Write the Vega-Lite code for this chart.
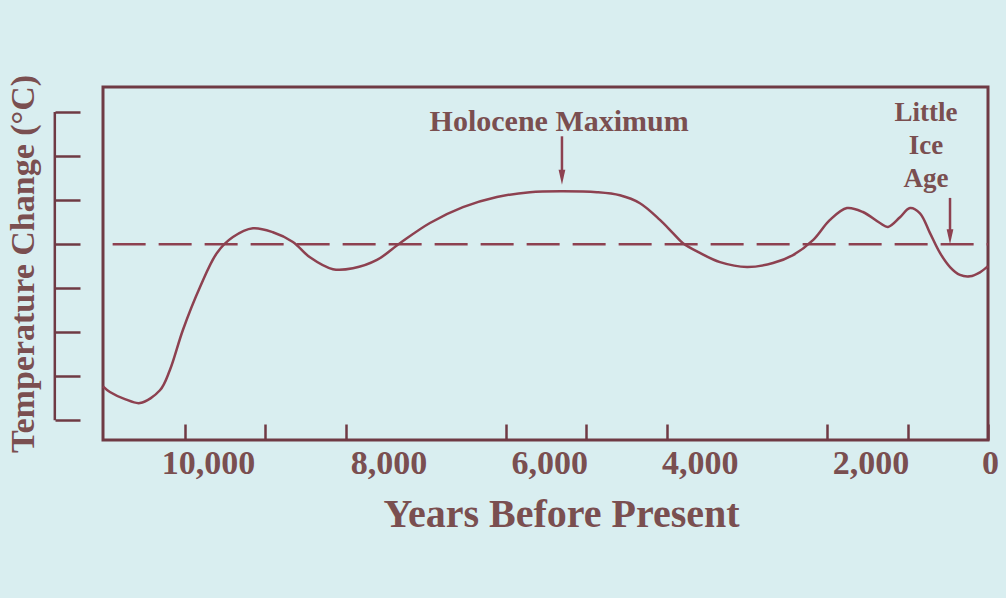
{
  "$schema": "https://vega.github.io/schema/vega-lite/v6.json",
  "width": 885,
  "height": 353,
  "autosize": {"type": "none"},
  "padding": {"left": 103, "top": 87, "right": 18, "bottom": 158},
  "background": "#d9eef0",
  "config": {
    "font": "Liberation Serif",
    "view": {"stroke": "#6f3a44", "strokeWidth": 3},
    "axis": {"grid": false}
  },
  "datasets": {
    "curve": [
      {"year": 11020, "temp": -3.23},
      {"year": 10934, "temp": -3.36},
      {"year": 10747, "temp": -3.52},
      {"year": 10560, "temp": -3.61},
      {"year": 10311, "temp": -3.32},
      {"year": 10187, "temp": -2.86},
      {"year": 10025, "temp": -1.95},
      {"year": 9813, "temp": -0.98},
      {"year": 9601, "temp": -0.2},
      {"year": 9402, "temp": 0.16},
      {"year": 9153, "temp": 0.36},
      {"year": 8904, "temp": 0.27},
      {"year": 8655, "temp": 0.05},
      {"year": 8443, "temp": -0.3},
      {"year": 8157, "temp": -0.57},
      {"year": 7908, "temp": -0.55},
      {"year": 7609, "temp": -0.36},
      {"year": 7323, "temp": 0.02},
      {"year": 6949, "temp": 0.48},
      {"year": 6538, "temp": 0.84},
      {"year": 6115, "temp": 1.07},
      {"year": 5704, "temp": 1.18},
      {"year": 5293, "temp": 1.2},
      {"year": 4869, "temp": 1.18},
      {"year": 4583, "temp": 1.11},
      {"year": 4334, "temp": 0.93},
      {"year": 4085, "temp": 0.55},
      {"year": 3923, "temp": 0.25},
      {"year": 3798, "temp": 0.02},
      {"year": 3587, "temp": -0.2},
      {"year": 3337, "temp": -0.41},
      {"year": 3001, "temp": -0.52},
      {"year": 2677, "temp": -0.43},
      {"year": 2428, "temp": -0.25},
      {"year": 2179, "temp": 0.09},
      {"year": 1968, "temp": 0.55},
      {"year": 1756, "temp": 0.82},
      {"year": 1557, "temp": 0.73},
      {"year": 1345, "temp": 0.48},
      {"year": 1245, "temp": 0.39},
      {"year": 1096, "temp": 0.61},
      {"year": 971, "temp": 0.82},
      {"year": 847, "temp": 0.7},
      {"year": 722, "temp": 0.25},
      {"year": 598, "temp": -0.2},
      {"year": 473, "temp": -0.52},
      {"year": 349, "temp": -0.7},
      {"year": 224, "temp": -0.73},
      {"year": 100, "temp": -0.64},
      {"year": 0, "temp": -0.5}
    ],
    "baseline": [{"year": 10900, "temp": 0}, {"year": 0, "temp": 0}],
    "bigLabel": [{"year": 5340, "temp": 2.77, "text": "Holocene Maximum"}],
    "smallLabel": [
      {"year": 772, "temp": 2.98, "text": "Little"},
      {"year": 772, "temp": 2.23, "text": "Ice"},
      {"year": 772, "temp": 1.48, "text": "Age"}
    ],
    "arrowShaft": [
      {"year": 5305, "temp": 2.45, "temp2": 1.6},
      {"year": 473, "temp": 1.05, "temp2": 0.3}
    ],
    "arrowHead": [
      {"year": 5305, "temp": 1.52},
      {"year": 473, "temp": 0.17}
    ],
    "bracket": [{"year": 11620, "temp": -4, "temp2": 3}]
  },
  "encoding": {
    "x": {
      "field": "year",
      "type": "quantitative",
      "scale": {"domain": [0, 11020], "reverse": true, "nice": false, "zero": false},
      "axis": {
        "orient": "bottom",
        "domain": false,
        "values": [10000, 9000, 8000, 6000, 5000, 4000, 2000, 1000, 0],
        "tickSize": -16,
        "tickWidth": 2.5,
        "tickColor": "#6f3a44",
        "labelExpr": "indexof([10000, 8000, 6000, 4000, 2000, 0], datum.value) >= 0 ? format(datum.value, ',') : ''",
        "labelFontSize": 34,
        "labelFontWeight": "bold",
        "labelColor": "#7a4f50",
        "labelPadding": 22,
        "labelFlush": false,
        "labelOverlap": false,
        "labelOffset": {
          "condition": [
            {"test": "datum.value == 10000", "value": 23},
            {"test": "datum.value == 4000", "value": 33},
            {"test": "datum.value == 0", "value": 2}
          ],
          "value": 43
        },
        "title": "Years Before Present",
        "titleFontSize": 40,
        "titleFontWeight": "bold",
        "titleColor": "#7a4f50",
        "titlePadding": 14,
        "titleX": 458
      }
    },
    "y": {
      "field": "temp",
      "type": "quantitative",
      "scale": {"domain": [-4.45, 3.57], "nice": false, "zero": false},
      "axis": {
        "orient": "left",
        "offset": 48,
        "domain": false,
        "labels": false,
        "values": [-4, -3, -2, -1, 0, 1, 2, 3],
        "tickSize": -25,
        "tickWidth": 2.5,
        "tickColor": "#6f3a44",
        "title": "Temperature Change (°C)",
        "titleFontSize": 34,
        "titleFontWeight": "bold",
        "titleColor": "#7a4f50",
        "titlePadding": 13
      }
    }
  },
  "layer": [
    {
      "data": {"name": "curve"},
      "mark": {"type": "line", "interpolate": "catmull-rom", "stroke": "#8d4150", "strokeWidth": 2.5}
    },
    {
      "data": {"name": "baseline"},
      "mark": {"type": "line", "stroke": "#8d4150", "strokeWidth": 2.5, "strokeDash": [33, 13]}
    },
    {
      "data": {"name": "bracket"},
      "mark": {"type": "rule", "stroke": "#6f3a44", "strokeWidth": 2.5},
      "encoding": {"y2": {"field": "temp2"}}
    },
    {
      "data": {"name": "arrowShaft"},
      "mark": {"type": "rule", "stroke": "#8d4150", "strokeWidth": 2.5},
      "encoding": {"y2": {"field": "temp2"}}
    },
    {
      "data": {"name": "arrowHead"},
      "mark": {"type": "point", "shape": "M-0.45,-1L0.45,-1L0,1Z", "size": 225, "filled": true, "fill": "#8d4150", "opacity": 1, "strokeWidth": 0}
    },
    {
      "data": {"name": "bigLabel"},
      "mark": {"type": "text", "fontSize": 30, "fontWeight": "bold", "color": "#7a4f50", "baseline": "middle", "align": "center"},
      "encoding": {"text": {"field": "text"}}
    },
    {
      "data": {"name": "smallLabel"},
      "mark": {"type": "text", "fontSize": 27, "fontWeight": "bold", "color": "#7a4f50", "baseline": "middle", "align": "center"},
      "encoding": {"text": {"field": "text"}}
    }
  ]
}
